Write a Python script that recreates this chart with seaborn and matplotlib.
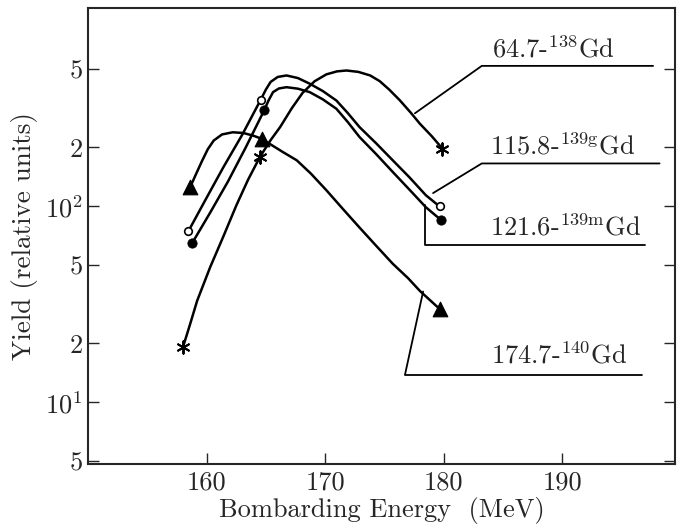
import matplotlib
matplotlib.use("Agg")
import matplotlib.pyplot as plt
import seaborn as sns
import pandas as pd

# ---------------- data ----------------
# measured points
gd138_x = [158.0, 164.5, 179.9]
gd138_y = [19.1, 179, 197]
gd139g_x = [158.45, 164.57, 179.65]
gd139g_y = [74.5, 351, 100]
gd139m_x = [158.8, 164.85, 179.8]
gd139m_y = [65.3, 309, 85]
gd140_x = [158.6, 164.7, 179.65]
gd140_y = [125, 221, 30]

# hand-drawn curves
c138_x = [158.0, 158.6, 159.2, 160.3, 161.4, 162.5, 163.5, 164.5, 165.4, 166.2, 167.2, 168.1, 169.1, 170.1, 171.0, 171.8, 172.8, 173.8, 174.6, 175.4, 176.3, 177.2, 178.0, 179.0, 179.9]
c138_y = [19.1, 25, 33, 49, 70, 101, 137, 179, 218, 254, 318, 380, 435, 472, 489, 494, 486, 466, 436, 395, 348, 302, 264, 228, 197]
c139g_x = [158.45, 159.9, 161.4, 163.0, 164.57, 165.0, 165.4, 166.0, 166.74, 167.7, 168.7, 169.8, 170.95, 171.9, 172.9, 174.3, 175.7, 177.1, 178.5, 179.65]
c139g_y = [74.5, 108, 158, 232, 351, 395, 432, 458, 466, 452, 423, 388, 347, 300, 254, 210, 172, 141, 114, 100]
c139m_x = [158.8, 160.3, 161.8, 163.3, 164.85, 165.2, 165.6, 166.1, 166.74, 167.7, 168.7, 169.8, 170.95, 171.9, 172.9, 174.3, 175.7, 177.1, 178.5, 179.8]
c139m_y = [65.3, 93, 134, 200, 309, 345, 383, 400, 406, 399, 383, 352, 315, 270, 226, 185, 150, 122, 99, 85]
c140_x = [158.6, 159.1, 159.6, 160.1, 160.6, 161.3, 162.2, 163.1, 163.9, 164.7, 165.3, 166.4, 167.6, 168.8, 170.1, 171.5, 172.9, 174.3, 175.7, 177.0, 178.0, 179.65]
c140_y = [125, 146, 170, 196, 217, 233, 239, 237, 230, 221, 209, 190, 172, 147, 121, 97, 78, 63, 51, 43, 37, 30]

labels = [r"64.7-${}^{138}$Gd", r"115.8-${}^{139\mathrm{g}}$Gd",
          r"121.6-${}^{139\mathrm{m}}$Gd", r"174.7-${}^{140}$Gd"]

ytick_vals = [5, 10, 20, 50, 100, 200, 500]
ytick_labels = ["5", r"$10^1$", "2", "5", r"$10^2$", "2", "5"]
xtick_vals = [160, 170, 180, 190]
xtick_labels = ["160", "170", "180", "190"]

# ---------------- style ----------------
sns.set_style("ticks")
plt.rcParams["font.family"] = ["cmr10", "DejaVu Serif"]
plt.rcParams["mathtext.fontset"] = "cm"
plt.rcParams["axes.formatter.use_mathtext"] = True
plt.rcParams["axes.unicode_minus"] = False

fig = plt.figure(figsize=(6.83, 5.32), dpi=100)
ax = fig.add_axes([0.129, 0.128, 0.859, 0.857])

curves = [(c138_x, c138_y), (c139g_x, c139g_y), (c139m_x, c139m_y), (c140_x, c140_y)]
for cx, cy in curves:
    df = pd.DataFrame({"E": cx, "Y": cy})
    sns.lineplot(data=df, x="E", y="Y", sort=False, estimator=None,
                 color="black", lw=1.8, ax=ax)
for ln in ax.lines:
    ln.set_solid_joinstyle("round")

pts = [
    (gd138_x, gd138_y, dict(marker=(6, 2, 0), s=80, color="black", linewidth=1.4)),
    (gd139g_x, gd139g_y, dict(marker="o", s=30, facecolor="white", edgecolor="black", linewidth=1.2)),
    (gd139m_x, gd139m_y, dict(marker="o", s=45, color="black", edgecolor="black")),
    (gd140_x, gd140_y, dict(marker="^", s=110, color="black", edgecolor="black")),
]
for px, py, kw in pts:
    df = pd.DataFrame({"E": px, "Y": py})
    sns.scatterplot(data=df, x="E", y="Y", ax=ax, zorder=5, **kw)

ax.set_yscale("log")
ax.set_xlim(150.0, 199.5)
ax.set_ylim(4.85, 1030)
ax.set_yticks(ytick_vals)
ax.set_yticklabels(ytick_labels)
ax.set_xticks(xtick_vals)
ax.set_xticklabels(xtick_labels)
ax.yaxis.set_minor_locator(matplotlib.ticker.NullLocator())
ax.tick_params(axis="y", which="major", direction="in", left=True, right=True,
               length=8, width=1, labelsize=19, pad=4)
ax.tick_params(axis="x", which="major", direction="in", bottom=True, top=False,
               length=8, width=1, labelsize=19, pad=5)
for sp in ax.spines.values():
    sp.set_visible(True)
    sp.set_linewidth(1.5)

ax.set_xlabel("Bombarding Energy  (MeV)", fontsize=19, labelpad=2)
ax.set_ylabel("Yield (relative units)", fontsize=19.5, labelpad=5)

# leader lines (axes fraction) and labels
leaders = [
    [(0.557, 0.769), (0.671, 0.873), (0.963, 0.873)],
    [(0.588, 0.594), (0.671, 0.659), (0.974, 0.659)],
    [(0.575, 0.568), (0.575, 0.480), (0.949, 0.480)],
    [(0.571, 0.378), (0.540, 0.195), (0.944, 0.195)],
]
text_pos = [(0.688, 0.892), (0.685, 0.678), (0.685, 0.500), (0.687, 0.221)]
for pts_l, (tx, ty), lab in zip(leaders, text_pos, labels):
    xs = [p[0] for p in pts_l]
    ys = [p[1] for p in pts_l]
    ax.plot(xs, ys, transform=ax.transAxes, color="black", lw=1.3)
    ax.text(tx, ty, lab, transform=ax.transAxes, fontsize=19, ha="left", va="baseline")

fig.savefig("out.png", dpi=100)
